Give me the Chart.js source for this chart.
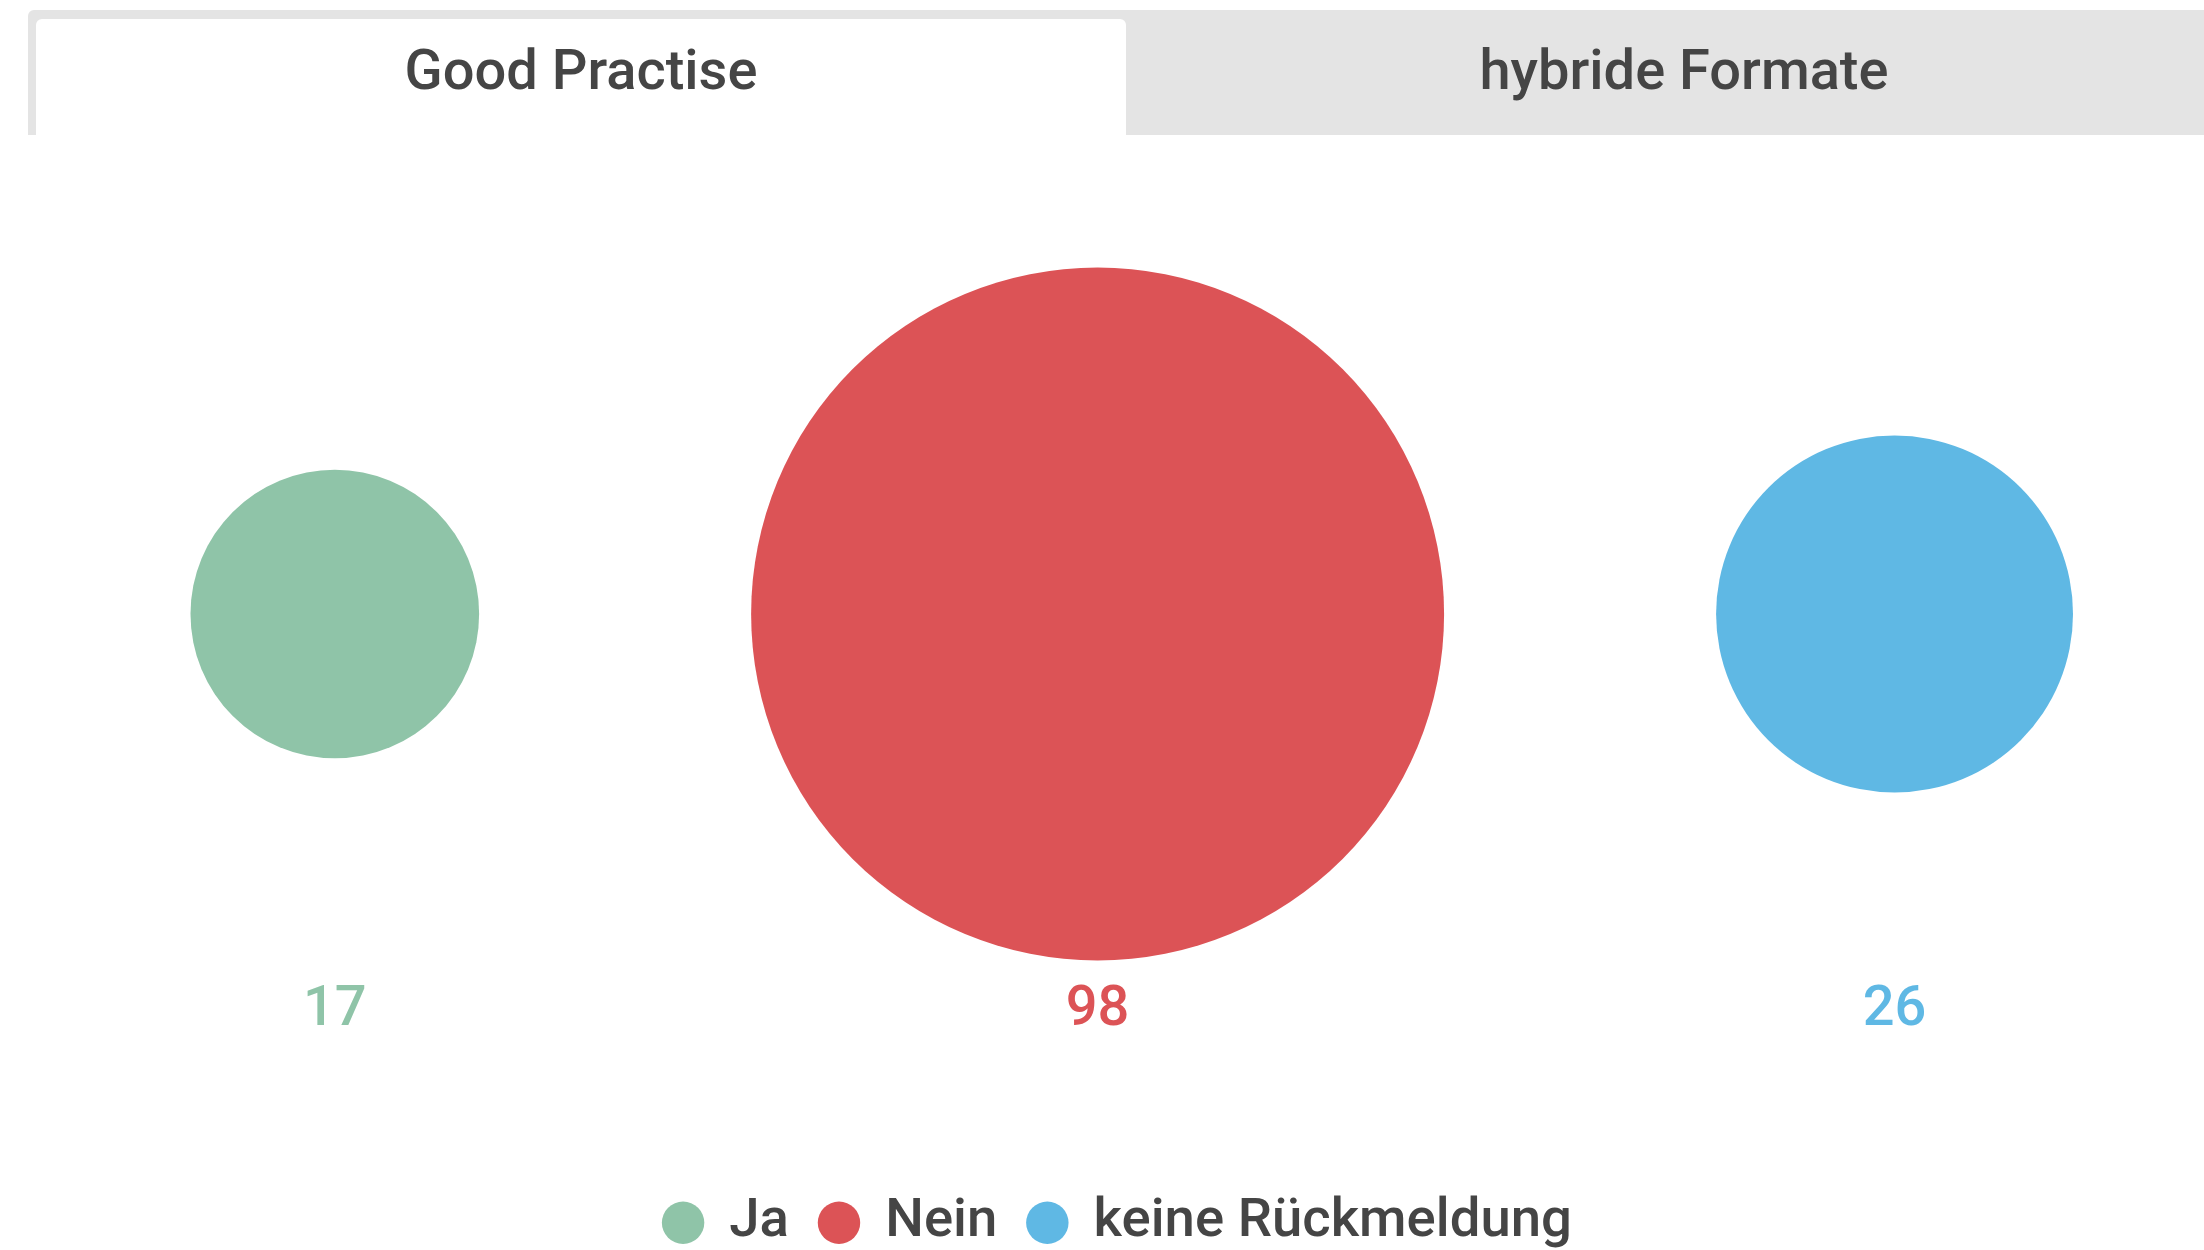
<!DOCTYPE html>
<html lang="de">
<head>
<meta charset="utf-8">
<title>Good Practise</title>
<script src="https://cdn.jsdelivr.net/npm/chart.js@4.4.1/dist/chart.umd.min.js"></script>
<style>
  html, body { margin: 0; padding: 0; background: #fff; width: 2204px; height: 1250px; overflow: hidden; font-family: Roboto, "Noto Sans", sans-serif; }
  #chartBox { position: absolute; left: 0; top: 0; width: 2236px; height: 1260px; }
  .tabs { position: absolute; left: 28px; top: 10px; width: 2214px; height: 125px; background: #e4e4e4; border-top-left-radius: 6px; z-index: 2; }
  .tab { position: absolute; top: 0; height: 125px; color: #454545; font: 500 56px Roboto, sans-serif; }
  .tab span { position: absolute; left: 0; right: 0; text-align: center; line-height: 56px; white-space: nowrap; }
  .tab.active { left: 8px; top: 9px; width: 1090px; height: 116px; background: #fff; border-radius: 6px 6px 0 0; }
  .tab.active span { top: 23px; }
  .tab.idle { left: 1098px; width: 1116px; }
  .tab.idle span { top: 32px; }
</style>
</head>
<body>
<div class="tabs">
  <div class="tab active"><span>Good Practise</span></div>
  <div class="tab idle"><span>hybride Formate</span></div>
</div>
<div id="chartBox"><canvas id="chart"></canvas></div>
<script>
// Antworten auf die Frage nach Good-Practice-Beispielen
const categories = ['Ja', 'Nein', 'keine Rückmeldung'];
const counts = [17, 98, 26];
const colors = ['#8fc4a8', '#dc5356', '#5fb8e4'];

const TEXT_COLOR = '#454545';
const FONT_FAMILY = 'Roboto';
const CANVAS_WIDTH = 2236;
const PX_PER_ROOT = 35;   // bubble radius grows with the square root of the count (area ∝ count)
const BUBBLE_GAP = 272;   // equal white space between neighbouring bubbles
const ROW_START = 190.5;  // left edge of the first bubble
const LABEL_GAP = 51;     // distance from the lowest bubble edge to the value row

// place the bubbles side by side, separated by equal gaps
function layoutRow(values) {
  let edge = ROW_START;
  return values.map(v => {
    const r = PX_PER_ROOT * Math.sqrt(v);
    const x = edge + r;
    edge += 2 * r + BUBBLE_GAP;
    return { x, y: 0, r };
  });
}
const points = layoutRow(counts);

const datasets = categories.map((name, i) => ({
  label: name,
  data: [points[i]],
  backgroundColor: colors[i],
  borderWidth: 0,
  hoverBorderWidth: 0,
  clip: false
}));

// value row underneath the bubbles, coloured like each bubble
const valueLabels = {
  id: 'valueLabels',
  afterDatasetsDraw(chart) {
    const ctx = chart.ctx;
    const els = chart.data.datasets.map((_, i) => chart.getDatasetMeta(i).data[0]);
    const lowest = Math.max(...els.map(el => el.y + el.options.radius));
    ctx.save();
    ctx.font = `500 56px ${FONT_FAMILY}`;
    ctx.textAlign = 'center';
    ctx.textBaseline = 'middle';
    els.forEach((el, i) => {
      ctx.fillStyle = colors[i];
      ctx.fillText(String(counts[i]), el.x, lowest + LABEL_GAP);
    });
    ctx.restore();
  }
};

new Chart(document.getElementById('chart'), {
  type: 'bubble',
  data: { datasets },
  plugins: [valueLabels],
  options: {
    responsive: true,
    maintainAspectRatio: false,
    animation: false,
    events: [],
    layout: { autoPadding: false, padding: { top: 63.5, left: 0, right: 0, bottom: 0 } },
    scales: {
      x: { type: 'linear', min: 0, max: CANVAS_WIDTH, display: false },
      y: { type: 'linear', min: -1, max: 1, display: false }
    },
    plugins: {
      tooltip: { enabled: false },
      legend: {
        position: 'bottom',
        labels: {
          usePointStyle: true,
          pointStyle: 'circle',
          boxWidth: 38,
          boxHeight: 30,
          padding: 31,
          color: TEXT_COLOR,
          font: { family: FONT_FAMILY, size: 54.5, weight: '500' }
        }
      }
    }
  }
});
</script>
</body>
</html>
